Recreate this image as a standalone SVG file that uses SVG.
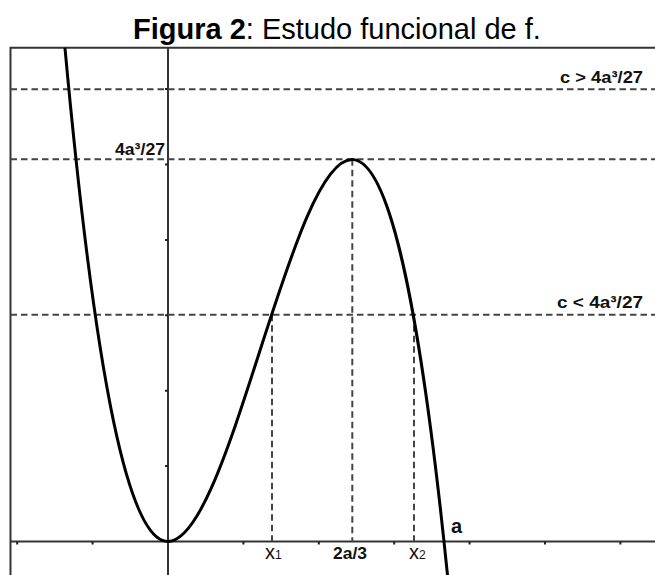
<svg xmlns="http://www.w3.org/2000/svg" width="655" height="575" viewBox="0 0 655 575">
<style>
.frame{stroke:#333;stroke-width:2;fill:none}
.axis{stroke:#333;stroke-width:2;fill:none}
.tick{stroke:#222;stroke-width:2;fill:none}
.dash{stroke:#444;stroke-width:2;stroke-dasharray:6.5,4;fill:none}
.curve{stroke:#000;stroke-width:3;fill:none}
.lbl{font-family:"Liberation Sans",Arial,sans-serif;font-weight:bold;font-size:17px;fill:#111}
.xl{font-family:"Liberation Sans",Arial,sans-serif;font-size:20px;fill:#111}
.title{font-family:"Liberation Sans",Arial,sans-serif;font-size:29px;fill:#000}
</style>
<rect width="655" height="575" fill="#fff"/>
<text class="title" x="133" y="39"><tspan font-weight="bold">Figura 2</tspan>: Estudo funcional de f.</text>
<g id="frame">
<path class="frame" d="M10.5,575 V47.7 H655"/>
</g>
<g id="axes">
<line class="axis" x1="168" y1="47.7" x2="168" y2="575"/>
<line class="axis" x1="10.5" y1="541.5" x2="655" y2="541.5"/>
<path class="tick" d="M17.2,541.5v3 M92.6,541.5v3 M243.4,541.5v3 M318.8,541.5v3 M394.2,541.5v3 M469.6,541.5v3 M545,541.5v3 M620.4,541.5v3 M168,466.1h-3 M168,390.7h-3 M168,315.3h-3 M168,239.9h-3 M168,164.5h-3 M168,89.1h-3"/>
</g>
<g id="connectors">
<line class="dash" x1="10.5" y1="89.3" x2="655" y2="89.3"/>
<line class="dash" x1="10.5" y1="159.3" x2="655" y2="159.3"/>
<line class="dash" x1="10.5" y1="314.7" x2="655" y2="314.7"/>
<line class="dash" x1="352.3" y1="159.3" x2="352.3" y2="541.5"/>
<line class="dash" x1="272" y1="314.7" x2="272" y2="541.5"/>
<line class="dash" x1="414" y1="314.7" x2="414" y2="541.5"/>
</g>
<g id="curve">
<path class="curve" d="M64.96,47.94 C192.53,1436.2 320.11,-679.24 447.68,576.8"/>
</g>
<g id="labels">
<text class="lbl" x="165" y="155" text-anchor="end" textLength="50" lengthAdjust="spacingAndGlyphs">4a³/27</text>
<text class="lbl" x="560" y="83" textLength="83" lengthAdjust="spacingAndGlyphs">c &gt; 4a³/27</text>
<text class="lbl" x="557" y="308" textLength="86" lengthAdjust="spacingAndGlyphs">c &lt; 4a³/27</text>
<text class="lbl" x="333" y="559" textLength="34" lengthAdjust="spacingAndGlyphs">2a/3</text>
<text class="xl" x="265" y="559">x<tspan style="font-size:12px">1</tspan></text>
<text class="xl" x="409" y="559">x<tspan style="font-size:12px">2</tspan></text>
<text class="lbl" x="451" y="533" style="font-size:20px">a</text>
</g>
</svg>
